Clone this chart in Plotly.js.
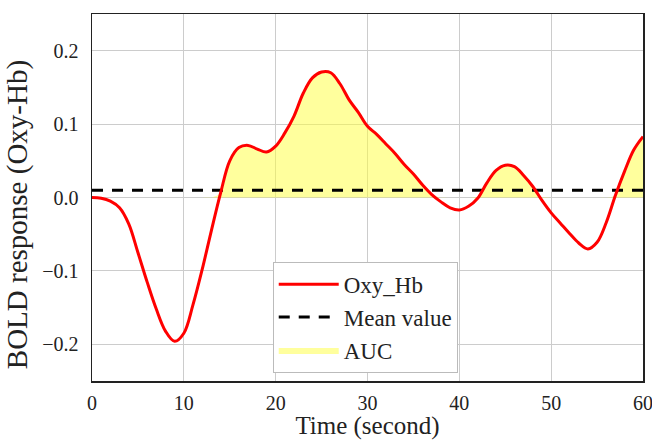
<!DOCTYPE html>
<html>
<head>
<meta charset="utf-8">
<script src="https://cdn.plot.ly/plotly-3.0.1.min.js"></script>
<style>html,body{margin:0;padding:0;background:#fff;}#chart{width:652px;height:440px;}</style>
</head>
<body>
<div id="chart"></div>
<script>
// Time in seconds
const timeSec = [0,1,2,3,4,5,6,7,8,9,10,11,12,13,14,15,16,17,18,19,20,21,22,23,24,25,26,27,28,29,30,31,32,33,34,35,36,37,38,39,40,41,42,43,44,45,46,47,48,49,50,51,52,53,54,55,56,57,58,59,60];
// Oxy-Hb BOLD response
const oxyHb = [0.000,-0.001,-0.005,-0.014,-0.036,-0.075,-0.115,-0.152,-0.182,-0.196,-0.185,-0.146,-0.098,-0.045,0.006,0.050,0.068,0.071,0.066,0.062,0.070,0.088,0.111,0.142,0.163,0.171,0.170,0.155,0.133,0.116,0.097,0.086,0.073,0.060,0.045,0.032,0.017,0.004,-0.006,-0.014,-0.017,-0.012,-0.001,0.020,0.037,0.044,0.042,0.030,0.015,-0.004,-0.021,-0.035,-0.049,-0.062,-0.070,-0.061,-0.034,0.003,0.036,0.065,0.083];
const meanValue = 0.01;
const meanX = [0, 60];
const yTitle = 'BOLD response (Oxy-Hb)';
const xTitle = 'Time (second)';

const aucY = oxyHb.map(v => Math.max(v, 0));
const font = "'Liberation Serif', 'Times New Roman', serif";

const traces = [
  {x: timeSec, y: aucY, type: 'scatter', mode: 'lines', name: 'AUC',
   line: {width: 0, shape: 'spline', smoothing: 1}, fill: 'tozeroy',
   fillcolor: 'rgba(255,255,60,0.5)', legendrank: 3, hoverinfo: 'skip'},
  {x: meanX, y: [meanValue, meanValue], type: 'scatter', mode: 'lines', name: 'Mean value',
   line: {color: '#000', width: 3, dash: '11px,9px'}, legendrank: 2},
  {x: timeSec, y: oxyHb, type: 'scatter', mode: 'lines', name: 'Oxy_Hb',
   line: {color: '#ff0000', width: 3, shape: 'spline', smoothing: 1}, legendrank: 1}
];

const layout = {
  width: 652, height: 440,
  margin: {l: 92, r: 9, t: 14, b: 59},
  paper_bgcolor: '#fff', plot_bgcolor: '#fff',
  font: {family: font, color: '#222', size: 18},
  showlegend: true,
  legend: {x: 0.328, y: 0.325, xanchor: 'left', yanchor: 'top',
           bgcolor: '#fff', bordercolor: '#bbb', borderwidth: 1,
           font: {family: font, size: 23, color: '#222'}, itemwidth: 60,
           traceorder: 'normal'},
  xaxis: {range: [0, 60], dtick: 10, tick0: 0, showgrid: true, gridcolor: '#cccccc', gridwidth: 1,
          zeroline: false, showline: true, mirror: true, linecolor: '#222', linewidth: 1.5,
          ticks: '', ticklen: 0, ticklabelstandoff: 3, ticklabeloverflow: 'allow',
          tickfont: {family: font, size: 20, color: '#222'},
          title: {text: xTitle, font: {family: font, size: 25, color: '#222'}, standoff: 6}},
  yaxis: {range: [-0.25, 0.25], dtick: 0.1, tick0: 0, tickformat: '.1f', showgrid: true,
          gridcolor: '#cccccc', gridwidth: 1, zeroline: false, showline: true, mirror: true,
          linecolor: '#222', linewidth: 1.5, ticks: '', ticklabelstandoff: 8,
          tickfont: {family: font, size: 20, color: '#222'}},
  annotations: [{text: yTitle, textangle: -90, xref: 'paper', yref: 'paper',
                 x: -0.136, y: 0.452, xanchor: 'center', yanchor: 'middle', showarrow: false,
                 font: {family: font, size: 29, color: '#222'}}]
};

Plotly.newPlot('chart', traces, layout, {displayModeBar: false, staticPlot: true});
</script>
</body>
</html>
